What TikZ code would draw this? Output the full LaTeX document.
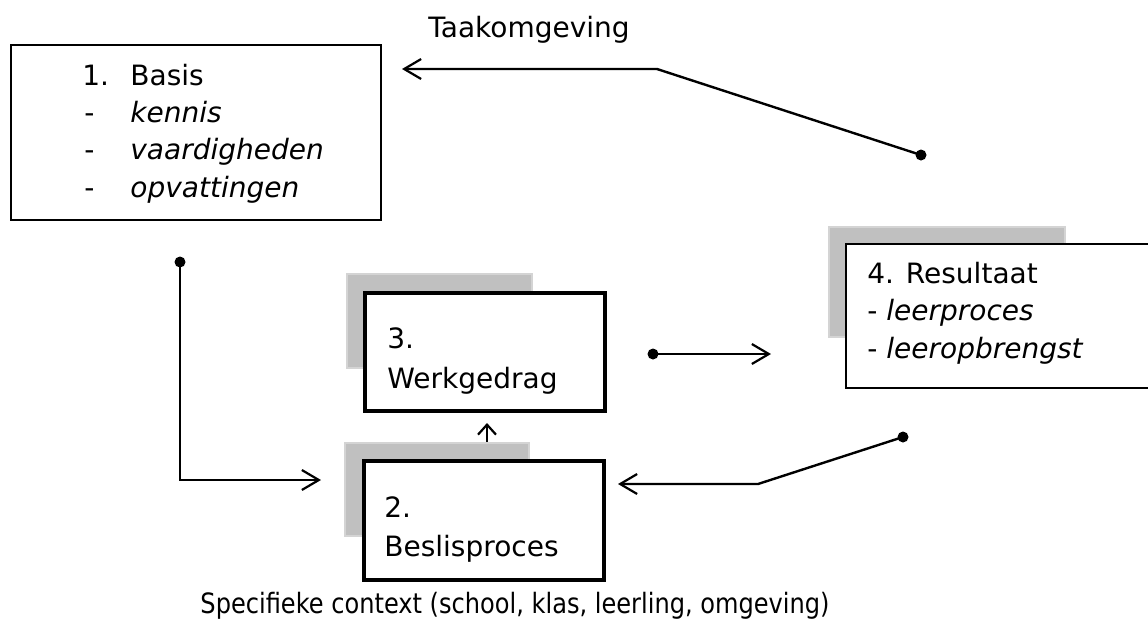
\documentclass[tikz,border=0pt]{standalone}
\usepackage{fontspec}
\setmainfont{DejaVu Sans}
\newfontfamily\narrowfont[FakeStretch=0.86]{DejaVu Sans}
\usetikzlibrary{arrows.meta}
\definecolor{shadowgray}{HTML}{C0C0C0}
\definecolor{shadowedge}{HTML}{D4D4D4}
\begin{document}
\begin{tikzpicture}[x=0.5pt,y=-0.5pt,
  box/.style={draw=black, fill=white, line width=1pt, inner sep=0pt},
  thickbox/.style={draw=black, fill=white, line width=2pt, inner sep=0pt},
  shadowbox/.style={fill=shadowgray, draw=shadowedge, line width=0.6pt},
  lbl/.style={anchor=base west, inner sep=0pt, font=\fontsize{14pt}{16pt}\selectfont},
  conn/.style={line width=1.2pt, -{Straight Barb[length=8.5pt,width=10pt,line width=1.1pt]}},
  smallconn/.style={line width=1.1pt, -{Straight Barb[length=5pt,width=9pt,line width=1.1pt]}},
  dotc/.style={circle, fill=black, inner sep=0pt, minimum size=5.5pt}]
\useasboundingbox (0,0) rectangle (1148,623);
\clip (0,0) rectangle (1148,623);

% box 1
\node[box, minimum width=185pt, minimum height=87.5pt] (basis) at (196,132.5) {};
\node[lbl] (b1a) at (82,85) {1.};
\node[lbl] (b1b) at (130,85) {Basis};
\node[lbl] (b1c) at (84,122) {-};
\node[lbl] (b1d) at (130,122) {\itshape kennis};
\node[lbl] (b1e) at (84,159.5) {-};
\node[lbl] (b1f) at (130,159.5) {\itshape vaardigheden};
\node[lbl] (b1g) at (84,197) {-};
\node[lbl] (b1h) at (130,197) {\itshape opvattingen};

% label top
\node[lbl] (taak) at (428,37) {Taakomgeving};

% box 4
\fill[shadowbox] (829,227) rectangle (1065,337);
\node[box, minimum width=157pt, minimum height=72pt] (result) at (1003,316) {};
\node[lbl] (r1) at (867,283) {4. Resultaat};
\node[lbl] (r2) at (867,320.5) {- \itshape leerproces};
\node[lbl] (r3) at (867,358) {- \itshape leeropbrengst};

% small arrow 2 -> 3
\coordinate (u1) at (487,443);
\coordinate (u2) at (487,423);
\draw[smallconn] (u1) -- (u2);

% box 3
\fill[shadowbox] (347,274) rectangle (532,368);
\node[thickbox, minimum width=120pt, minimum height=59pt] (werk) at (485,352) {};
\node[lbl] (w1) at (387,348) {3.};
\node[lbl] (w2) at (387,388) {Werkgedrag};

% box 2
\fill[shadowbox] (345,443) rectangle (529,536);
\node[thickbox, minimum width=120pt, minimum height=59.5pt] (besl) at (484,520.5) {};
\node[lbl] (s1) at (384,517) {2.};
\node[lbl] (s2) at (384,556) {Beslisproces};

% bottom label
\node[lbl, anchor=base, font=\fontsize{14pt}{16pt}\narrowfont] (context) at (515,613) {Specifieke context (school, klas, leerling, omgeving)};

% connectors
\coordinate (t1) at (921,155);
\coordinate (t2) at (657,69);
\coordinate (t3) at (402,69);
\draw[conn] (t1) -- (t2) -- (t3);
\node[dotc] (t1d) at (t1) {};

\coordinate (l1) at (180,262);
\coordinate (l2) at (180,480);
\coordinate (l3) at (321,480);
\draw[conn] (l1) -- (l2) -- (l3);
\node[dotc] (l1d) at (l1) {};

\coordinate (m1) at (653,354);
\coordinate (m2) at (771,354);
\draw[conn] (m1) -- (m2);
\node[dotc] (m1d) at (m1) {};

\coordinate (r1c) at (903,437);
\coordinate (r2c) at (758,484);
\coordinate (r3c) at (618,484);
\draw[conn] (r1c) -- (r2c) -- (r3c);
\node[dotc] (r1d) at (r1c) {};
\end{tikzpicture}
\end{document}
